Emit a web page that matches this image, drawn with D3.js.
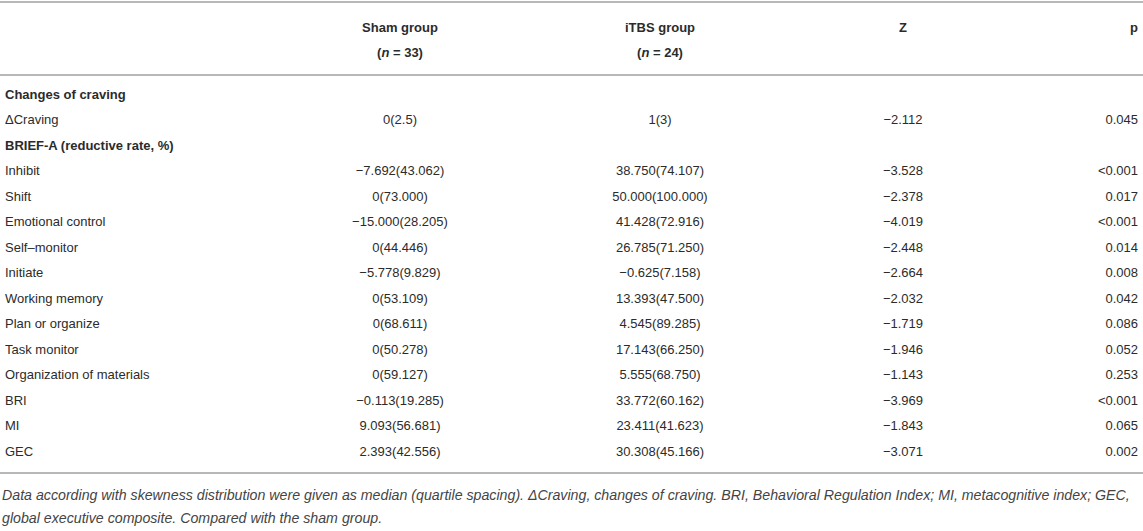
<!DOCTYPE html>
<html>
<head>
<meta charset="utf-8">
<script src="https://cdn.jsdelivr.net/npm/d3@7"></script>
<style>
  body { margin: 0; background: #fff; }
  svg text { font-family: "Liberation Sans", Arial, sans-serif; fill: #2b2b2b; }
</style>
</head>
<body>
<div id="app"></div>
<script>
const rowLabels = ["Changes of craving", "\u0394Craving", "BRIEF-A (reductive rate, %)",
  "Inhibit", "Shift", "Emotional control", "Self\u2013monitor", "Initiate",
  "Working memory", "Plan or organize", "Task monitor", "Organization of materials",
  "BRI", "MI", "GEC"];
const isSection = [true, false, true, false, false, false, false, false,
  false, false, false, false, false, false, false];
const shamValues = ["", "0(2.5)", "", "\u22127.692(43.062)", "0(73.000)", "\u221215.000(28.205)",
  "0(44.446)", "\u22125.778(9.829)", "0(53.109)", "0(68.611)", "0(50.278)", "0(59.127)",
  "\u22120.113(19.285)", "9.093(56.681)", "2.393(42.556)"];
const itbsValues = ["", "1(3)", "", "38.750(74.107)", "50.000(100.000)", "41.428(72.916)",
  "26.785(71.250)", "\u22120.625(7.158)", "13.393(47.500)", "4.545(89.285)", "17.143(66.250)",
  "5.555(68.750)", "33.772(60.162)", "23.411(41.623)", "30.308(45.166)"];
const zValues = ["", "\u22122.112", "", "\u22123.528", "\u22122.378", "\u22124.019", "\u22122.448",
  "\u22122.664", "\u22122.032", "\u22121.719", "\u22121.946", "\u22121.143", "\u22123.969",
  "\u22121.843", "\u22123.071"];
const pValues = ["", "0.045", "", "<0.001", "0.017", "<0.001", "0.014", "0.008", "0.042",
  "0.086", "0.052", "0.253", "<0.001", "0.065", "0.002"];
const footnote = [
  "Data according with skewness distribution were given as median (quartile spacing). \u0394Craving, changes of craving. BRI, Behavioral Regulation Index; MI, metacognitive index; GEC,",
  "global executive composite. Compared with the sham group."
];

const w = 1143, h = 531;
const svg = d3.select("#app").append("svg").attr("width", w).attr("height", h);

// row centres
const y = d3.scalePoint().domain(d3.range(rowLabels.length)).range([94, 451]);
const fs = 13;

// rules
const ruleColor = "#b8b8b8";
[2, 75, 473].forEach(function (yy) {
  svg.append("line").attr("x1", 0).attr("x2", w).attr("y1", yy).attr("y2", yy)
    .attr("stroke", ruleColor).attr("stroke-width", 2);
});

// header
const head = svg.append("g").attr("font-size", fs).attr("font-weight", "bold");
function nLabel(x, n) {
  const t = head.append("text").attr("x", x).attr("y", 52).attr("dy", "0.35em").attr("text-anchor", "middle");
  t.append("tspan").text("(");
  t.append("tspan").attr("font-style", "italic").text("n");
  t.append("tspan").text(" = " + n + ")");
}
head.append("text").attr("x", 400).attr("y", 27).attr("dy", "0.35em").attr("text-anchor", "middle").text("Sham group");
nLabel(400, 33);
head.append("text").attr("x", 660).attr("y", 27).attr("dy", "0.35em").attr("text-anchor", "middle").text("iTBS group");
nLabel(660, 24);
head.append("text").attr("x", 903).attr("y", 27).attr("dy", "0.35em").attr("text-anchor", "middle").text("Z");
head.append("text").attr("x", 1138).attr("y", 27).attr("dy", "0.35em").attr("text-anchor", "end").text("p");

// body
const rows = svg.append("g").attr("font-size", fs).selectAll("g")
  .data(rowLabels)
  .enter().append("g")
  .attr("transform", function (d, i) { return "translate(0," + y(i) + ")"; });

rows.append("text").attr("x", 5).attr("dy", "0.35em")
  .attr("font-weight", function (d, i) { return isSection[i] ? "bold" : "normal"; })
  .text(function (d) { return d; });
rows.append("text").attr("x", 400).attr("dy", "0.35em").attr("text-anchor", "middle")
  .text(function (d, i) { return shamValues[i]; });
rows.append("text").attr("x", 660).attr("dy", "0.35em").attr("text-anchor", "middle")
  .text(function (d, i) { return itbsValues[i]; });
rows.append("text").attr("x", 903).attr("dy", "0.35em").attr("text-anchor", "middle")
  .text(function (d, i) { return zValues[i]; });
rows.append("text").attr("x", 1138).attr("dy", "0.35em").attr("text-anchor", "end")
  .text(function (d, i) { return pValues[i]; });

// footnote
svg.append("g").attr("font-size", 14.2).attr("font-style", "italic")
  .selectAll("text").data(footnote).enter().append("text")
  .attr("x", 2).attr("y", function (d, i) { return 495 + i * 23; }).attr("dy", "0.35em")
  .style("fill", "#444")
  .text(function (d) { return d; });
</script>
</body>
</html>
